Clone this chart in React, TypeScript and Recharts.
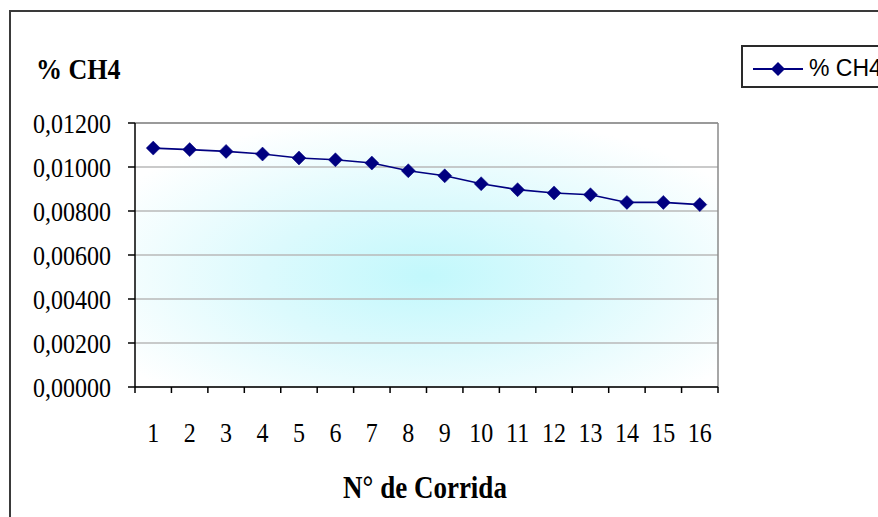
import React from "react";
import { LineChart, Line, XAxis, YAxis, CartesianGrid, ReferenceLine } from "recharts";

const runs = [1, 2, 3, 4, 5, 6, 7, 8, 9, 10, 11, 12, 13, 14, 15, 16];
const ch4 = [0.01086, 0.01079, 0.01071, 0.01059, 0.01041, 0.01033, 0.01018, 0.00983, 0.0096, 0.00924, 0.00897, 0.00882, 0.00874, 0.00839, 0.00839, 0.00829];
const yTicks = [0, 0.002, 0.004, 0.006, 0.008, 0.01, 0.012];
const seriesName = "% CH4";
const xTitle = "N° de Corrida";

const data = runs.map((r, i) => ({ run: r, v: ch4[i] }));
const xTicks = [...runs.flatMap((r) => [r - 0.5, r]), runs[runs.length - 1] + 0.5];

const SERIF = '"Liberation Serif", "Times New Roman", serif';
const SANS = '"Liberation Sans", Arial, sans-serif';
const NAVY = "#000080";
const STRETCH = 1.17;

const fmt = (v: number) => v.toFixed(5).replace(".", ",");

const YTick = (props: any) => {
  const { x, y, payload } = props;
  return (
    <g transform={`translate(${x},${y}) scale(1,${STRETCH})`}>
      <text x={0} y={0} dy="0.35em" textAnchor="end" fontFamily={SERIF} fontSize={24} fill="#000">
        {fmt(payload.value)}
      </text>
    </g>
  );
};

const XTick = (props: any) => {
  const { x, y, payload } = props;
  const v = payload.value;
  if (Number.isInteger(v)) {
    return (
      <g transform={`translate(${x},${y + 45}) scale(1,${STRETCH})`}>
        <text x={0} y={0} dy="0.35em" textAnchor="middle" fontFamily={SERIF} fontSize={24} fill="#000">
          {v}
        </text>
      </g>
    );
  }
  return <line x1={x} x2={x} y1={y} y2={y + 6} stroke="#000" strokeWidth={1.5} />;
};

const Diamond = (props: any) => {
  const { cx, cy } = props;
  if (cx == null || cy == null) return null;
  const s = 7;
  return <path d={`M${cx},${cy - s}L${cx + s},${cy}L${cx},${cy + s}L${cx - s},${cy}Z`} fill={NAVY} stroke={NAVY} strokeWidth={0.5} />;
};

export default function App() {
  return (
    <div style={{ position: "absolute", left: 0, top: 0, width: 878, height: 517, overflow: "hidden", background: "#fff" }}>
      <svg width={0} height={0} style={{ position: "absolute" }}>
        <defs>
          <radialGradient id="bgGrad" cx="0.5" cy="0.58" r="0.62">
            <stop offset="0" stopColor="#c2f8fc" />
            <stop offset="0.45" stopColor="#dcfafd" />
            <stop offset="1" stopColor="#ffffff" />
          </radialGradient>
        </defs>
      </svg>
      <div
        style={{
          position: "absolute",
          left: 9,
          top: 10,
          width: 1000,
          height: 1000,
          borderLeft: "2px solid #3a3a3a",
          borderTop: "2px solid #3a3a3a",
        }}
      />
      <div style={{ position: "absolute", left: 0, top: 0 }}>
        <LineChart width={878} height={517} data={data} margin={{ top: 123, right: 160, bottom: 70, left: 0 }}>
          <CartesianGrid vertical={false} stroke="#b8b8b8" strokeWidth={1.5} fill="url(#bgGrad)" />
          <XAxis
            dataKey="run"
            type="number"
            domain={[0.5, 16.5]}
            ticks={xTicks}
            interval={0}
            tickLine={false}
            tickSize={0}
            tickMargin={0}
            height={60}
            axisLine={{ stroke: "#000", strokeWidth: 1.5 }}
            tick={<XTick />}
            allowDecimals
          />
          <YAxis
            type="number"
            domain={[0, 0.012]}
            ticks={yTicks}
            interval={0}
            width={135}
            tickSize={7}
            tickMargin={17}
            tickLine={{ stroke: "#000", strokeWidth: 1.5 }}
            axisLine={{ stroke: "#000", strokeWidth: 1.5 }}
            tick={<YTick />}
          />
          <ReferenceLine y={0.012} stroke="#8a8a8a" strokeWidth={1.5} />
          <ReferenceLine x={16.5} stroke="#8a8a8a" strokeWidth={1.5} />
          <Line
            dataKey="v"
            name={seriesName}
            stroke={NAVY}
            strokeWidth={1.6}
            dot={<Diamond />}
            activeDot={false}
            isAnimationActive={false}
          />
        </LineChart>
      </div>
      <div
        style={{
          position: "absolute",
          left: 36,
          top: 55,
          fontFamily: SERIF,
          fontWeight: "bold",
          fontSize: 26,
          lineHeight: "30px",
          whiteSpace: "nowrap",
          transform: `scaleY(${STRETCH})`,
        }}
      >
        {seriesName}
      </div>
      <div
        style={{
          position: "absolute",
          left: 225,
          width: 400,
          top: 472,
          textAlign: "center",
          fontFamily: SERIF,
          fontWeight: "bold",
          fontSize: 27,
          lineHeight: "30px",
          whiteSpace: "nowrap",
          transform: `scaleY(${STRETCH})`,
        }}
      >
        {xTitle}
      </div>
      <div
        style={{
          position: "absolute",
          left: 741,
          top: 45,
          width: 300,
          height: 39,
          border: "2px solid #2a2a2a",
          display: "flex",
          alignItems: "center",
          boxSizing: "content-box",
        }}
      >
        <svg width={66} height={39} style={{ flex: "none" }}>
          <line x1={10} x2={60} y1={22} y2={22} stroke={NAVY} strokeWidth={2} />
          <path d="M35,15L42,22L35,29L28,22Z" fill={NAVY} />
        </svg>
        <span style={{ fontFamily: SANS, fontSize: 23, whiteSpace: "nowrap", marginTop: 3 }}>{seriesName}</span>
      </div>
    </div>
  );
}
